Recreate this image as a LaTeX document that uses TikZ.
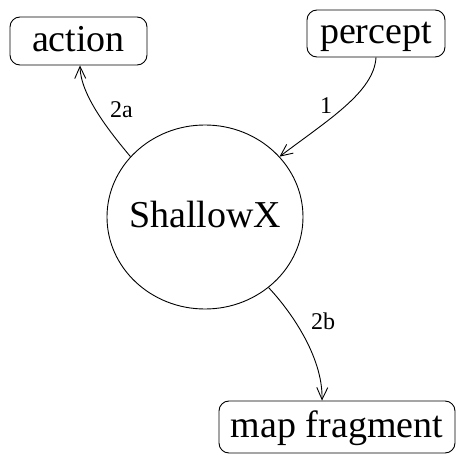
\documentclass[tikz,border=0pt]{standalone}
\usepackage{fontspec}
\setmainfont{Liberation Serif}
\usetikzlibrary{shapes.geometric,arrows.meta}
\tikzset{
  box/.style={draw, rounded corners=10pt, inner sep=0pt, line width=0.9pt,
    text height=28pt, text depth=8pt, font=\fontsize{38}{40}\selectfont},
  agent/.style={draw, ellipse, inner sep=0pt, line width=0.9pt,
    text height=28pt, text depth=8pt,
    minimum width=196pt, minimum height=184pt, font=\fontsize{38}{40}\selectfont},
  flow/.style={line width=0.9pt, -{Straight Barb[length=12pt,width=11pt,line width=0.9pt]}},
  lbl/.style={inner sep=0pt, font=\fontsize{24}{26}\selectfont}
}
\begin{document}
\begin{tikzpicture}[x=1pt, y=-1pt]
  \useasboundingbox (0,0) rectangle (456,455);

  % the three boxes and the agent
  \node[box, minimum width=137pt, minimum height=48pt] (action) at (78.5,41) {action};
  \node[box, minimum width=138pt, minimum height=47pt] (percept) at (376,33.5) {percept};
  \node[box, minimum width=236pt, minimum height=52pt] (mapfrag) at (337,427) {map fragment};
  \node[agent] (sx) at (205,217) {\makebox[0pt]{ShallowX}};

  % step 1: percept into ShallowX
  \draw[flow] (percept.south) .. controls (374,92) and (328,120) .. (sx.39);
  \node[lbl] (l1) at (326,106) {1};

  % step 2a: ShallowX out to action
  \draw[flow] (sx.141) .. controls (109,131) and (80.5,95) .. ([xshift=1.5pt]action.south);
  \node[lbl] (l2a) at (121.5,110) {2a};

  % step 2b: ShallowX out to map fragment
  \draw[flow] (sx.-48) .. controls (288,308) and (323,355) .. ([xshift=-15pt]mapfrag.north);
  \node[lbl] (l2b) at (323,321) {2b};
\end{tikzpicture}
\end{document}
